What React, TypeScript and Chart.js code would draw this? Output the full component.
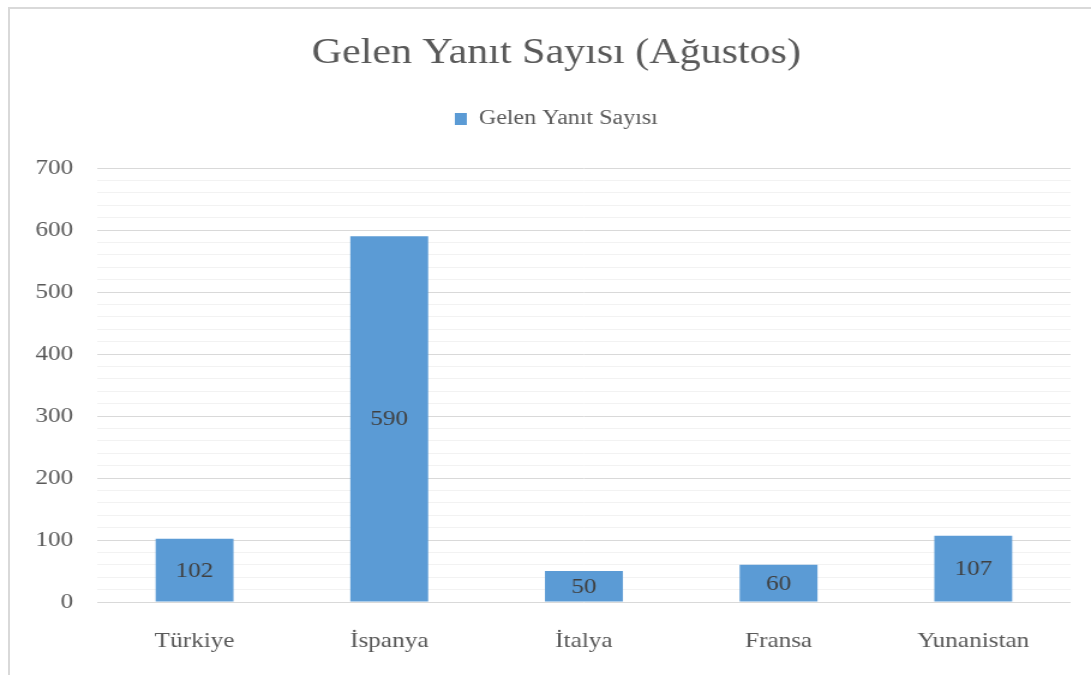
import React, { useEffect, useRef } from "react";
import { Chart, registerables } from "chart.js";

Chart.register(...registerables);

const categories = ["Türkiye", "İspanya", "İtalya", "Fransa", "Yunanistan"];
const responses = [102, 590, 50, 60, 107];
const seriesName = "Gelen Yanıt Sayısı";
const chartTitle = "Gelen Yanıt Sayısı (Ağustos)";
const yMax = 700;
const majorStep = 100;
const minorStep = 20;

const FONT = "'Liberation Serif', 'Times New Roman', serif";
const PAGE_W = 1091;
const PAGE_H = 675;
const INNER_W = 909;

const valueLabels = {
  id: "valueLabels",
  afterDatasetsDraw(chart: any) {
    const ctx = chart.ctx;
    const meta = chart.getDatasetMeta(0);
    ctx.save();
    ctx.font = `21px ${FONT}`;
    ctx.fillStyle = "#404040";
    ctx.textAlign = "center";
    ctx.textBaseline = "middle";
    meta.data.forEach((bar: any, i: number) => {
      const v = chart.data.datasets[0].data[i];
      const { x, y, base } = bar.getProps(["x", "y", "base"], true);
      ctx.fillText(String(v), x, (y + base) / 2 + 1);
    });
    ctx.restore();
  },
};

export default function App() {
  const ref = useRef<HTMLCanvasElement | null>(null);
  useEffect(() => {
    if (!ref.current) return;
    const chart = new Chart(ref.current, {
      type: "bar",
      data: {
        labels: categories,
        datasets: [
          {
            label: seriesName,
            data: responses,
            backgroundColor: "#5b9bd5",
            borderWidth: 0,
            categoryPercentage: 1,
            barPercentage: 0.4,
            yAxisID: "y",
          },
        ],
      },
      options: {
        animation: false,
        responsive: true,
        maintainAspectRatio: false,
        layout: { padding: { left: 0, right: -18, top: 0, bottom: 0 } },
        plugins: {
          title: {
            display: true,
            text: chartTitle,
            color: "#595959",
            font: { family: FONT, size: 35, weight: "normal", lineHeight: 1.2 },
            padding: { top: 33, bottom: 0 },
          },
          legend: {
            display: true,
            position: "top",
            weight: 1600,
            labels: {
              color: "#595959",
              font: { family: FONT, size: 20 },
              boxWidth: 10,
              boxHeight: 12,
              padding: 34,
            },
          },
          subtitle: {
            display: true,
            text: "",
            font: { family: FONT, size: 10, lineHeight: 1.2 },
            padding: { top: 17, bottom: 0 },
          },
          tooltip: { enabled: false },
        },
        scales: {
          x: {
            grid: { display: false, drawTicks: false },
            border: { display: false },
            ticks: {
              color: "#595959",
              font: { family: FONT, size: 21 },
              padding: 27,
            },
            afterFit(scale: any) {
              scale.height = 73;
            },
          },
          y: {
            position: "left",
            min: 0,
            max: yMax,
            grid: {
              drawTicks: false,
              color: (c: any) =>
                c.tick && c.tick.value % majorStep === 0 ? "#d9d9d9" : "#f2f2f2",
              lineWidth: 1,
            },
            border: { display: false },
            ticks: {
              stepSize: minorStep,
              autoSkip: false,
              color: "#595959",
              font: { family: FONT, size: 21 },
              padding: 20,
              callback: (v: any) => (Number(v) % majorStep === 0 ? String(v) : ""),
            },
            afterFit(scale: any) {
              scale.width = 81;
            },
          },
          yRightSpace: {
            type: "linear",
            position: "right",
            display: true,
            grid: { display: false, drawTicks: false },
            border: { display: false },
            ticks: { display: false },
            afterFit(scale: any) {
              scale.width = 35;
            },
          },
        },
      },
      plugins: [valueLabels],
    });
    return () => chart.destroy();
  }, []);

  return (
    <div
      style={{
        position: "fixed",
        left: 0,
        top: 0,
        width: PAGE_W,
        height: PAGE_H,
        background: "#fff",
        overflow: "hidden",
      }}
    >
      <div
        style={{
          position: "absolute",
          left: 8,
          top: 7,
          width: 1100,
          height: 700,
          borderTop: "2px solid #d9d9d9",
          borderLeft: "2px solid #d9d9d9",
        }}
      />
      <div
        style={{
          position: "absolute",
          left: 0,
          top: 0,
          width: INNER_W,
          height: PAGE_H,
          transform: `scaleX(${PAGE_W / INNER_W})`,
          transformOrigin: "0 0",
        }}
      >
        <canvas ref={ref} />
      </div>
    </div>
  );
}
